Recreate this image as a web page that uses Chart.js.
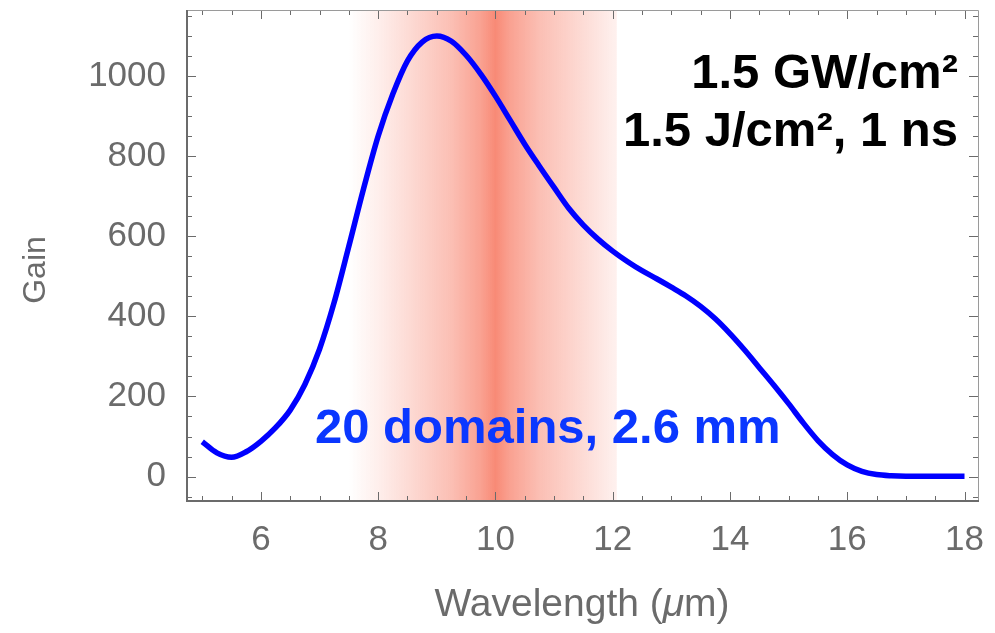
<!DOCTYPE html>
<html>
<head>
<meta charset="utf-8">
<script src="https://cdn.jsdelivr.net/npm/chart.js@4.4.1/dist/chart.umd.min.js"></script>
<style>
  html, body { margin: 0; padding: 0; background: #ffffff; }
  #wrap { width: 995px; height: 633px; position: relative; }
</style>
</head>
<body>
<div id="wrap"><canvas id="c" width="995" height="633"></canvas></div>
<script>
// ---- data ----
const wavelengths = [5.0, 5.25, 5.5, 5.75, 6.0, 6.25, 6.5, 6.75, 7.0, 7.25, 7.5, 7.75, 8.0, 8.25, 8.5, 8.75, 9.0, 9.25, 9.5, 9.75, 10.0, 10.25, 10.5, 10.75, 11.0, 11.25, 11.5, 11.75, 12.0, 12.25, 12.5, 12.75, 13.0, 13.25, 13.5, 13.75, 14.0, 14.25, 14.5, 14.75, 15.0, 15.25, 15.5, 15.75, 16.0, 16.25, 16.5, 16.75, 17.0, 17.5, 18.0];
const gain = [87, 59, 48, 62, 88, 122, 166, 230, 318, 435, 575, 718, 850, 955, 1038, 1085, 1100, 1087, 1052, 1005, 950, 890, 830, 775, 722, 670, 628, 593, 563, 537, 514, 494, 473, 451, 425, 394, 357, 316, 272, 228, 182, 134, 90, 55, 29, 13, 5, 2, 1, 1, 1];
const xTickLabels = [6, 8, 10, 12, 14, 16, 18];
const yTickLabels = [0, 200, 400, 600, 800, 1000];
const xAxisTitle = ['Wavelength (', 'μ', 'm)'];
const yAxisTitle = 'Gain';
const annotBlack = ['1.5 GW/cm²', '1.5 J/cm², 1 ns'];
const annotBlue = '20 domains, 2.6 mm';
const bandRange = [7.5, 12.07];
const bandCenter = 10;
const bandHalfWidth = 2.5;

const points = wavelengths.map((x, i) => ({ x: x, y: gain[i] }));

const GRAY = '#6b6b6b';
const FONT = '"Liberation Sans", Arial, Helvetica, sans-serif';

const bandPlugin = {
  id: 'band',
  beforeDatasetsDraw(chart) {
    const { ctx, chartArea: a, scales: { x } } = chart;
    const x0 = x.getPixelForValue(bandRange[0]);
    const x1 = x.getPixelForValue(bandRange[1]);
    const gl = x.getPixelForValue(bandCenter - bandHalfWidth);
    const gr = x.getPixelForValue(bandCenter + bandHalfWidth);
    const g = ctx.createLinearGradient(gl, 0, gr, 0);
    const prof = [[0, 0], [0.1, 0.14], [0.2, 0.3], [0.35, 0.55], [0.45, 0.8], [0.5, 1], [0.55, 0.8], [0.65, 0.55], [0.8, 0.3], [0.9, 0.14], [1, 0]];
    prof.forEach(([t, al]) => g.addColorStop(t, 'rgba(248,138,118,' + al + ')'));
    ctx.save();
    ctx.fillStyle = g;
    ctx.fillRect(x0, a.top, x1 - x0, a.bottom - a.top);
    ctx.restore();
  }
};

const framePlugin = {
  id: 'frame',
  afterDraw(chart) {
    const { ctx, chartArea: a, scales: { x, y } } = chart;
    ctx.save();
    // ticks
    ctx.strokeStyle = GRAY;
    ctx.lineWidth = 1;
    for (let v = 5; v <= 18.001; v += 0.5) {
      const px = Math.round(x.getPixelForValue(v)) + 0.5;
      const major = Math.abs(v / 2 - Math.round(v / 2)) < 1e-6;
      const len = major ? 9 : 5;
      ctx.beginPath();
      ctx.moveTo(px, a.bottom); ctx.lineTo(px, a.bottom - len);
      ctx.moveTo(px, a.top); ctx.lineTo(px, a.top + len);
      ctx.stroke();
    }
    for (let v = -50; v <= 1150; v += 50) {
      const py = Math.round(y.getPixelForValue(v)) + 0.5;
      const major = v % 200 === 0;
      const len = major ? 9 : 5;
      ctx.beginPath();
      ctx.moveTo(a.left, py); ctx.lineTo(a.left + len, py);
      ctx.moveTo(a.right, py); ctx.lineTo(a.right - len, py);
      ctx.stroke();
    }
    // frame
    ctx.strokeStyle = '#9a9a9a';
    ctx.lineWidth = 1;
    ctx.beginPath();
    ctx.moveTo(a.left, a.top + 0.5); ctx.lineTo(a.right + 0.5, a.top + 0.5);
    ctx.lineTo(a.right + 0.5, a.bottom);
    ctx.stroke();
    ctx.strokeStyle = GRAY;
    ctx.lineWidth = 2;
    ctx.beginPath();
    ctx.moveTo(a.left, a.top); ctx.lineTo(a.left, a.bottom);
    ctx.lineTo(a.right + 1, a.bottom);
    ctx.stroke();

    // axis titles
    ctx.fillStyle = GRAY;
    const tf = '39px ' + FONT, tfi = 'italic 39px ' + FONT;
    ctx.font = tf;
    ctx.textBaseline = 'alphabetic';
    const w0 = ctx.measureText(xAxisTitle[0]).width;
    ctx.font = tfi;
    const w1 = ctx.measureText(xAxisTitle[1]).width;
    ctx.font = tf;
    const w2 = ctx.measureText(xAxisTitle[2]).width;
    const cx = 582;
    let sx = cx - (w0 + w1 + w2) / 2;
    const by = 616;
    ctx.textAlign = 'left';
    ctx.fillText(xAxisTitle[0], sx, by);
    ctx.font = tfi;
    ctx.fillText(xAxisTitle[1], sx + w0, by);
    ctx.font = tf;
    ctx.fillText(xAxisTitle[2], sx + w0 + w1, by);

    ctx.save();
    ctx.translate(45, 270);
    ctx.rotate(-Math.PI / 2);
    ctx.textAlign = 'center';
    ctx.font = '32px ' + FONT;
    ctx.fillText(yAxisTitle, 0, 0);
    ctx.restore();

    // annotations
    ctx.fillStyle = '#000000';
    ctx.font = 'bold 49px ' + FONT;
    ctx.textAlign = 'right';
    ctx.fillText(annotBlack[0], 958, 88);
    ctx.fillText(annotBlack[1], 958, 146);
    ctx.fillStyle = '#0a37ff';
    ctx.font = 'bold 49px ' + FONT;
    ctx.textAlign = 'left';
    ctx.fillText(annotBlue, 315, 443);
    ctx.restore();
  }
};

function zeroPad(s) { s.paddingTop = 0; s.paddingBottom = 0; s.paddingLeft = 0; s.paddingRight = 0; }

new Chart(document.getElementById('c'), {
  type: 'line',
  data: {
    datasets: [{
      data: points,
      borderColor: '#0000ff',
      borderWidth: 5.5,
      pointRadius: 0,
      fill: false,
      cubicInterpolationMode: 'monotone'
    }]
  },
  options: {
    responsive: false,
    animation: false,
    devicePixelRatio: 1,
    layout: { autoPadding: false, padding: { top: 10, right: 17, left: 0, bottom: 0 } },
    plugins: { legend: { display: false }, tooltip: { enabled: false } },
    scales: {
      x: {
        type: 'linear',
        min: 4.74,
        max: 18.23,
        grid: { display: false, drawTicks: false },
        border: { display: false },
        afterBuildTicks: (s) => { s.ticks = xTickLabels.map(v => ({ value: v })); },
        afterFit: (s) => { s.height = 132; zeroPad(s); },
        ticks: { color: GRAY, font: { size: 35, family: FONT }, padding: 18, maxRotation: 0, autoSkip: false, callback: (v) => String(v) }
      },
      y: {
        type: 'linear',
        min: -61,
        max: 1165,
        grid: { display: false, drawTicks: false },
        border: { display: false },
        afterBuildTicks: (s) => { s.ticks = yTickLabels.map(v => ({ value: v })); },
        afterFit: (s) => { s.width = 187; zeroPad(s); },
        ticks: { color: GRAY, font: { size: 35, family: FONT }, padding: 21, autoSkip: false, callback: (v) => String(v) }
      }
    }
  },
  plugins: [bandPlugin, framePlugin]
});
</script>
</body>
</html>
